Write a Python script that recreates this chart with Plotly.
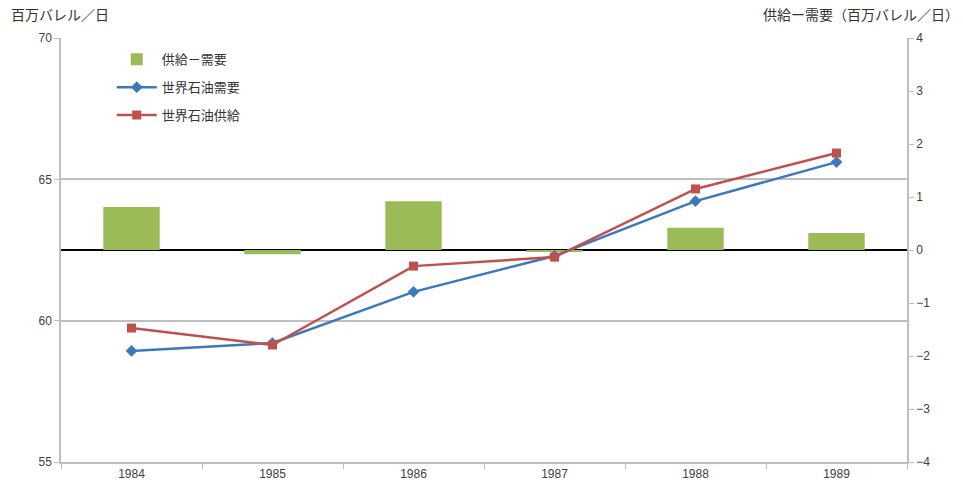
import plotly.graph_objects as go

years = ["1984", "1985", "1986", "1987", "1988", "1989"]
diff = [0.81, -0.08, 0.92, -0.03, 0.42, 0.32]
demand = [58.93, 59.21, 61.02, 62.29, 64.23, 65.61]
supply = [59.74, 59.14, 61.93, 62.25, 64.66, 65.93]

left_ticks = [55, 60, 65, 70]
right_ticks = [-4, -3, -2, -1, 0, 1, 2, 3, 4]

tick_font = dict(family="Liberation Sans Narrow, Liberation Sans, Arial", size=12, color="#404040")
jp_font = "Noto Sans CJK JP, Noto Sans"

fig = go.Figure()
fig.add_trace(go.Bar(
    x=years, y=diff, name="供給－需要", yaxis="y", legendgroup="a",
    marker=dict(color="#9BBB59", line=dict(width=0)), width=0.4,
))
fig.add_trace(go.Scatter(
    x=years, y=demand, name="世界石油需要", yaxis="y2", mode="lines+markers", legendgroup="b",
    line=dict(color="#3C78BE", width=2.5),
    marker=dict(symbol="diamond", size=9, color="#3C78BE"),
))
fig.add_trace(go.Scatter(
    x=years, y=supply, name="世界石油供給", yaxis="y2", mode="lines+markers", legendgroup="c",
    line=dict(color="#C0504D", width=2.5),
    marker=dict(symbol="square", size=9, color="#C0504D"),
))

fig.update_layout(
    width=963, height=492,
    margin=dict(l=61, r=56, t=38, b=30),
    paper_bgcolor="white", plot_bgcolor="white",
    showlegend=True,
    legend=dict(x=0.06, y=0.985, xanchor="left", yanchor="top",
                font=dict(family=jp_font, size=13, color="#333333"),
                bgcolor="rgba(0,0,0,0)", tracegroupgap=8, itemwidth=40,
                traceorder="grouped"),
    xaxis=dict(type="category", showgrid=False, showline=True, linecolor="#BFBFBF",
               linewidth=1.5, ticks="outside", tickcolor="#BFBFBF", ticklen=5,
               tickson="boundaries", tickfont=tick_font, zeroline=False),
    yaxis=dict(range=[-4, 4], tickvals=right_ticks, side="right", showgrid=False,
               showline=True, linecolor="#BFBFBF", linewidth=1.5, ticks="outside",
               tickcolor="#BFBFBF", ticklen=5, tickfont=tick_font,
               zeroline=True, zerolinecolor="black", zerolinewidth=2),
    yaxis2=dict(range=[55, 70], tickvals=left_ticks, side="left", overlaying="y",
                showgrid=True, gridcolor="#BFBFBF", gridwidth=1.5,
                showline=True, linecolor="#BFBFBF", linewidth=1.5, ticks="outside",
                tickcolor="#BFBFBF", ticklen=5,
                tickfont=dict(family="Liberation Sans Narrow, Liberation Sans, Arial", size=12, color="#404040"),
                zeroline=False),
    bargap=0.6,
    annotations=[
        dict(text="百万バレル／日", xref="paper", yref="paper", x=-61/846 + 9/846, y=1 + 24/424,
             xanchor="left", yanchor="middle", showarrow=False,
             font=dict(family=jp_font, size=14, color="#333333")),
        dict(text="供給ー需要（百万バレル／日）", xref="paper", yref="paper", x=1 + 54/846, y=1 + 24/424,
             xanchor="right", yanchor="middle", showarrow=False,
             font=dict(family=jp_font, size=14, color="#333333")),
    ],
)

fig.write_html("out.html")
